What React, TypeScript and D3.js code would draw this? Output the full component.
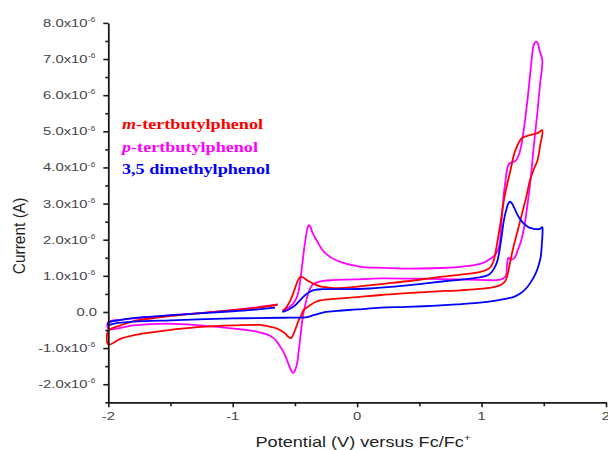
import React, { useEffect, useRef } from 'react';
import * as d3 from 'd3';

// ---------- data (V, current in µA) ----------
const xDomain: [number, number] = [-2, 2];
const yDomain: [number, number] = [-2.5e-6, 8e-6];
const xMajorTicks = [-2, -1, 0, 1, 2];
const xMinorTicks = [-1.5, -0.5, 0.5, 1.5];
const yMajorTicks = [-2e-6, -1e-6, 0, 1e-6, 2e-6, 3e-6, 4e-6, 5e-6, 6e-6, 7e-6, 8e-6];
const yMinorTicks = [-2.5e-6, -1.5e-6, -0.5e-6, 0.5e-6, 1.5e-6, 2.5e-6, 3.5e-6, 4.5e-6, 5.5e-6, 6.5e-6, 7.5e-6];
const yTickLabels = ['-2.0', '-1.0', '0.0', '1.0', '2.0', '3.0', '4.0', '5.0', '6.0', '7.0', '8.0'];
const xTickLabels = ['-2', '-1', '0', '1', '2'];

const seriesNames = ['m-tertbutylphenol', 'p-tertbutylphenol', '3,5 dimethylphenol'];
const seriesColors = ['#ff0000', '#ff00ff', '#0000ff'];

const mTertbutylphenol: [number, number][] = [
  [-0.60, 0.0], [-0.57, 0.12], [-0.537, 0.32], [-0.515, 0.5], [-0.496, 0.69], [-0.475, 0.88],
  [-0.456, 0.97], [-0.436, 0.96], [-0.416, 0.91], [-0.39, 0.85], [-0.362, 0.8], [-0.33, 0.75],
  [-0.295, 0.71], [-0.24, 0.68], [-0.188, 0.66], [-0.1, 0.67], [0.0, 0.7], [0.214, 0.78],
  [0.4, 0.85], [0.644, 0.96], [0.85, 1.04], [0.99, 1.11], [1.05, 1.18], [1.08, 1.28], [1.1, 1.45],
  [1.12, 1.8], [1.14, 2.2], [1.16, 2.65], [1.18, 3.1], [1.2, 3.45], [1.233, 3.93], [1.26, 4.35],
  [1.287, 4.6], [1.327, 4.82], [1.394, 4.9], [1.45, 4.95], [1.488, 5.03],
  [1.47, 4.6], [1.45, 4.2], [1.42, 3.95], [1.39, 3.65], [1.36, 3.2], [1.327, 2.75], [1.29, 2.25],
  [1.26, 1.85], [1.24, 1.55], [1.225, 1.3], [1.21, 1.05], [1.19, 0.85], [1.16, 0.76], [1.1, 0.69],
  [0.83, 0.6], [0.64, 0.57], [0.4, 0.52], [0.19, 0.47], [0.0, 0.41], [-0.16, 0.37], [-0.295, 0.32],
  [-0.34, 0.27], [-0.376, 0.19], [-0.43, 0.05], [-0.45, -0.1], [-0.47, -0.23], [-0.49, -0.42],
  [-0.51, -0.6], [-0.53, -0.72], [-0.55, -0.7], [-0.577, -0.6], [-0.61, -0.52], [-0.644, -0.46],
  [-0.7, -0.41], [-0.78, -0.36], [-0.99, -0.37], [-1.26, -0.415], [-1.53, -0.51], [-1.8, -0.645],
  [-1.9, -0.74], [-2.0, -0.9],
  [-2.0, -0.52], [-1.9, -0.37], [-1.8, -0.26], [-1.5, -0.11], [-1.26, -0.03], [-1.0, 0.05],
  [-0.8, 0.12], [-0.64, 0.2],
];

const pTertbutylphenol: [number, number][] = [
  [-0.60, 0.05], [-0.55, 0.12], [-0.51, 0.25], [-0.48, 0.45], [-0.46, 0.8], [-0.44, 1.35],
  [-0.42, 1.9], [-0.40, 2.3], [-0.39, 2.4], [-0.375, 2.35], [-0.36, 2.2], [-0.32, 1.95],
  [-0.28, 1.72], [-0.24, 1.58], [-0.18, 1.45], [-0.13, 1.38], [-0.05, 1.3], [0.03, 1.25],
  [0.2, 1.22], [0.4, 1.2], [0.6, 1.21], [0.83, 1.25], [0.95, 1.3], [1.02, 1.37], [1.06, 1.45],
  [1.09, 1.52], [1.113, 1.6], [1.14, 1.8], [1.16, 2.5], [1.18, 3.3], [1.193, 3.65], [1.205, 3.95],
  [1.22, 4.1], [1.25, 4.15], [1.273, 4.18], [1.3, 4.35], [1.327, 4.76], [1.37, 5.9], [1.40, 6.9],
  [1.42, 7.4], [1.437, 7.48], [1.45, 7.45], [1.465, 7.25], [1.488, 6.97],
  [1.47, 6.3], [1.448, 5.5], [1.42, 4.6], [1.395, 3.7], [1.37, 3.0], [1.345, 2.4], [1.32, 2.0],
  [1.29, 1.7], [1.265, 1.5], [1.235, 1.45], [1.215, 1.5], [1.205, 1.3], [1.195, 1.0], [1.17, 0.92],
  [1.12, 0.88], [1.05, 0.88], [0.8, 0.9], [0.5, 0.92], [0.19, 0.93], [-0.03, 0.9], [-0.2, 0.88],
  [-0.27, 0.86], [-0.32, 0.82], [-0.35, 0.78], [-0.37, 0.7], [-0.39, 0.55], [-0.41, 0.3],
  [-0.43, 0.0], [-0.445, -0.35], [-0.456, -0.69], [-0.47, -1.1], [-0.483, -1.43], [-0.5, -1.62],
  [-0.515, -1.69], [-0.53, -1.62], [-0.545, -1.5], [-0.563, -1.34], [-0.59, -1.12], [-0.617, -0.97],
  [-0.65, -0.8], [-0.7, -0.66], [-0.8, -0.55], [-0.99, -0.46], [-1.26, -0.37], [-1.53, -0.32],
  [-1.8, -0.37], [-2.0, -0.47],
  [-2.0, -0.28], [-1.9, -0.22], [-1.8, -0.18], [-1.5, -0.1], [-1.26, -0.03], [-1.0, 0.05],
  [-0.8, 0.13], [-0.64, 0.21],
];

const dimethylphenol: [number, number][] = [
  [-0.60, 0.0], [-0.55, 0.07], [-0.5, 0.18], [-0.46, 0.32], [-0.42, 0.46], [-0.38, 0.56],
  [-0.34, 0.61], [-0.28, 0.63], [-0.1, 0.63], [0.1, 0.65], [0.3, 0.7], [0.5, 0.77], [0.7, 0.85],
  [0.85, 0.9], [0.97, 0.95], [1.03, 0.99], [1.07, 1.06], [1.1, 1.2], [1.126, 1.4], [1.153, 1.9],
  [1.18, 2.55], [1.2, 2.85], [1.215, 3.0], [1.228, 3.05], [1.245, 3.0], [1.26, 2.9], [1.28, 2.75],
  [1.30, 2.62], [1.33, 2.48], [1.354, 2.4], [1.38, 2.34], [1.408, 2.31], [1.44, 2.29], [1.47, 2.3],
  [1.488, 2.35],
  [1.49, 2.2], [1.485, 1.9], [1.475, 1.52], [1.455, 1.25], [1.434, 1.06], [1.4, 0.85], [1.368, 0.69],
  [1.32, 0.53], [1.26, 0.42], [1.19, 0.36], [1.126, 0.32], [0.965, 0.25], [0.8, 0.21], [0.6, 0.17],
  [0.4, 0.14], [0.19, 0.12], [0.0, 0.07], [-0.16, 0.03], [-0.25, 0.0], [-0.3, -0.04], [-0.35, -0.09],
  [-0.4, -0.14], [-0.45, -0.155], [-0.6, -0.16], [-1.0, -0.18], [-1.5, -0.23], [-1.8, -0.27],
  [-1.95, -0.32], [-2.0, -0.36],
  [-2.0, -0.3], [-1.9, -0.22], [-1.8, -0.17], [-1.5, -0.09], [-1.0, 0.02], [-0.8, 0.07], [-0.66, 0.12],
];

const seriesData = [mTertbutylphenol, pTertbutylphenol, dimethylphenol];

// ---------- layout ----------
const W = 608;
const H = 450;
const X0 = 108.3;
const X1 = 606;
const Y0 = 402.3;
const Y1 = 22.9;
const SANS = "'Liberation Sans', Arial, sans-serif";
const SERIF = "'Liberation Serif', 'Times New Roman', serif";

// approximate Arial advance widths (em) for tick-label characters
const charEm: Record<string, number> = { '-': 0.333, '.': 0.278, x: 0.5 };
const textEm = (s: string) => s.split('').reduce((a, c) => a + (charEm[c] ?? 0.556), 0);
const PX_PER_EM = 14.8;

export default function App() {
  const xAxisRef = useRef<SVGGElement>(null);
  const xMinorRef = useRef<SVGGElement>(null);
  const yAxisRef = useRef<SVGGElement>(null);
  const yMinorRef = useRef<SVGGElement>(null);

  const x = d3.scaleLinear().domain(xDomain).range([X0, X1]);
  const y = d3.scaleLinear().domain(yDomain).range([Y0, Y1]);

  useEffect(() => {
    const style = (g: d3.Selection<SVGGElement, unknown, null, undefined>, keepDomain: boolean) => {
      g.selectAll('text').remove();
      if (!keepDomain) g.select('.domain').remove();
      g.select('.domain').attr('stroke', '#1a1a1a').attr('stroke-width', 1.8);
      g.selectAll('.tick line').attr('stroke', '#1a1a1a').attr('stroke-width', 1.6);
    };
    const gx = d3.select(xAxisRef.current!);
    gx.call(d3.axisBottom(x).tickValues(xMajorTicks).tickSize(5).tickSizeOuter(0));
    style(gx, true);
    const gxm = d3.select(xMinorRef.current!);
    gxm.call(d3.axisBottom(x).tickValues(xMinorTicks).tickSize(4).tickSizeOuter(0));
    style(gxm, false);
    const gy = d3.select(yAxisRef.current!);
    gy.call(d3.axisLeft(y).tickValues(yMajorTicks).tickSize(5).tickSizeOuter(0));
    style(gy, true);
    const gym = d3.select(yMinorRef.current!);
    gym.call(d3.axisLeft(y).tickValues(yMinorTicks).tickSize(3).tickSizeOuter(0));
    style(gym, false);
  }, []);

  const line = d3
    .line<[number, number]>()
    .x((d) => x(d[0]))
    .y((d) => y(d[1] * 1e-6))
    .curve(d3.curveCatmullRom.alpha(0.5));

  const legendY = [129, 151.5, 174];

  return (
    <svg
      width={W}
      height={H}
      style={{ position: 'absolute', left: 0, top: 0, background: '#fff' }}
    >
      <rect x={0} y={0} width={W} height={H} fill="#fff" />
      {/* curves */}
      {[1, 0, 2].map((i) => (
        <path
          key={i}
          d={line(seriesData[i]) || ''}
          fill="none"
          stroke={seriesColors[i]}
          strokeWidth={1.8}
          strokeLinejoin="round"
        />
      ))}
      {/* axes */}
      <g ref={xMinorRef} transform={`translate(0,${Y0})`} />
      <g ref={xAxisRef} transform={`translate(0,${Y0})`} />
      <g ref={yMinorRef} transform={`translate(${X0},0)`} />
      <g ref={yAxisRef} transform={`translate(${X0},0)`} />

      {/* y tick labels */}
      {yMajorTicks.map((v, i) => {
        const isZero = v === 0;
        const base = isZero ? yTickLabels[i] : yTickLabels[i] + 'x10';
        const right = isZero ? 97 : 87.5;
        const len = textEm(base) * PX_PER_EM;
        return (
          <g key={'yl' + i}>
            <text
              x={right - len}
              y={y(v) + 4}
              textLength={len}
              lengthAdjust="spacingAndGlyphs"
              fontSize={11.5}
              fontFamily={SANS}
              fill="#454545"
            >
              {base}
            </text>
            {!isZero && (
              <text
                x={88}
                y={y(v) - 0.8}
                textLength={7.2}
                lengthAdjust="spacingAndGlyphs"
                fontSize={7}
                fontFamily={SANS}
                fill="#454545"
              >
                -6
              </text>
            )}
          </g>
        );
      })}
      {/* x tick labels */}
      {xMajorTicks.map((v, i) => {
        const len = textEm(xTickLabels[i]) * PX_PER_EM;
        return (
          <text
            key={'xl' + i}
            x={x(v) - len / 2}
            y={419.5}
            textLength={len}
            lengthAdjust="spacingAndGlyphs"
            fontSize={11.5}
            fontFamily={SANS}
            fill="#454545"
          >
            {xTickLabels[i]}
          </text>
        );
      })}

      {/* axis titles */}
      <g transform={`translate(363,446.5) scale(1.25,1)`}>
        <text textAnchor="middle" fontSize={14.5} fontFamily={SANS} fill="#222">
          Potential (V) versus Fc/Fc
          <tspan dy={-6} fontSize={9}>+</tspan>
        </text>
      </g>
      <g transform={`translate(25,236) scale(1.1,1) rotate(-90)`}>
        <text textAnchor="middle" fontSize={15.5} fontFamily={SANS} fill="#222">
          Current (A)
        </text>
      </g>

      {/* legend */}
      {seriesNames.map((name, i) => {
        const italicPrefix = i === 0 ? 'm' : i === 1 ? 'p' : '';
        const rest = italicPrefix ? name.slice(1) : name;
        return (
          <g key={'lg' + i} transform={`translate(122,${legendY[i]}) scale(1.17,1)`}>
            <text fontSize={15.5} fontFamily={SERIF} fontWeight="bold" fill={seriesColors[i]}>
              {italicPrefix && <tspan fontStyle="italic">{italicPrefix}</tspan>}
              <tspan>{rest}</tspan>
            </text>
          </g>
        );
      })}
    </svg>
  );
}
